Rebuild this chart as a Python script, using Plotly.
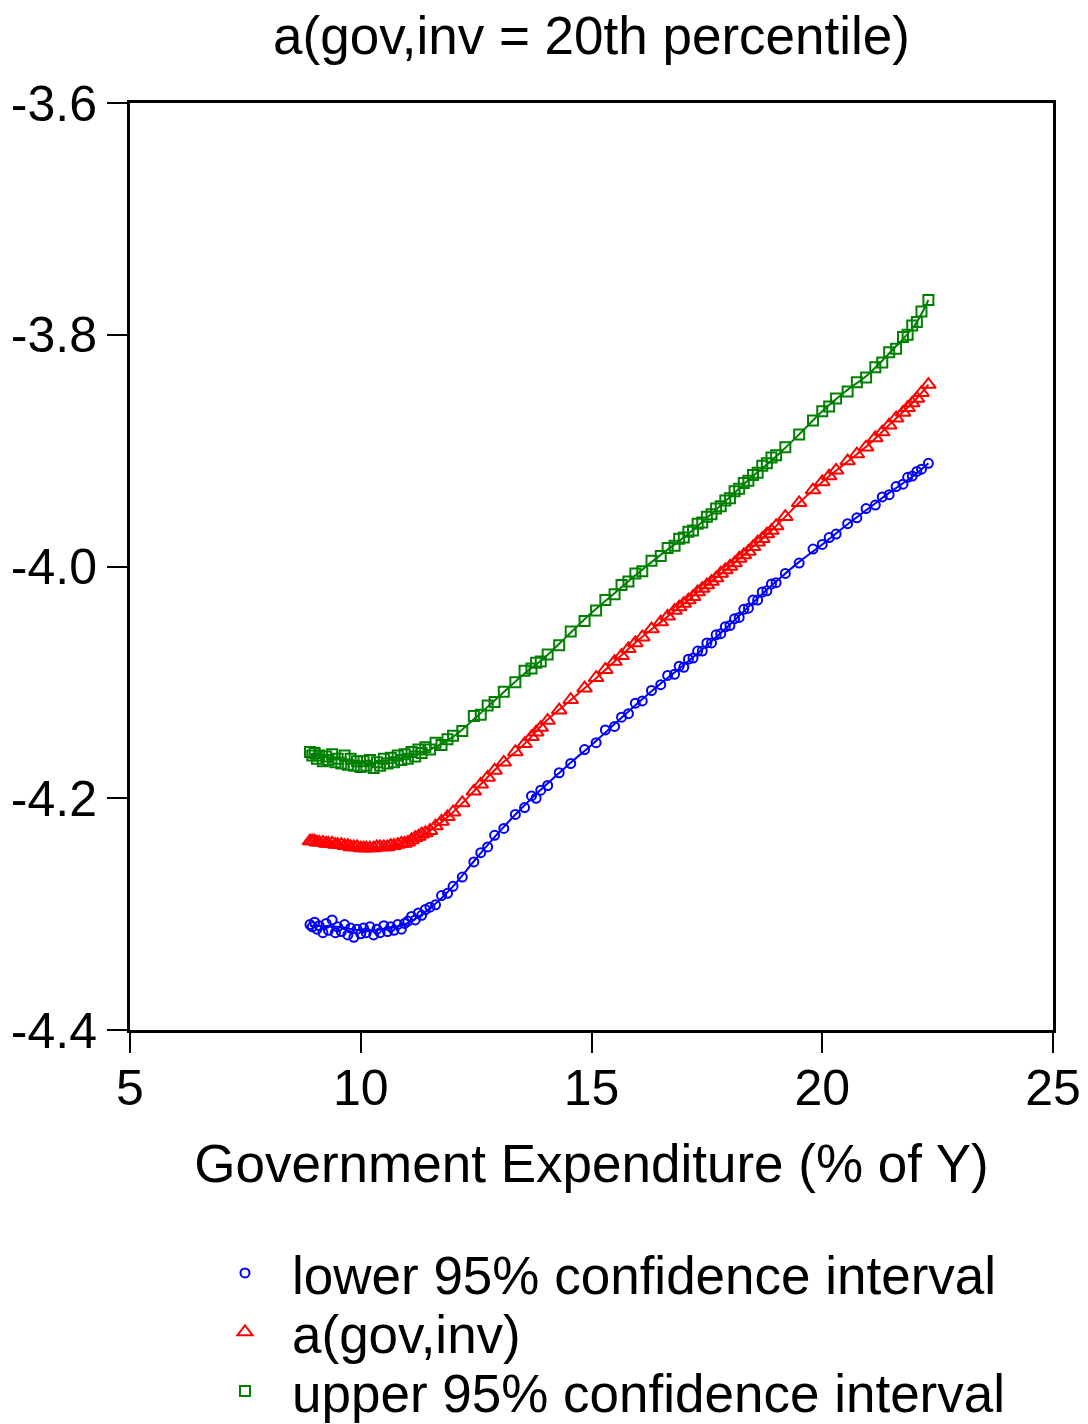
import plotly.graph_objects as go

# Observation x values (government expenditure, % of Y)
obs_x = [8.90, 8.95, 9.00, 9.05, 9.10, 9.18, 9.25, 9.30, 9.38, 9.45, 9.50, 9.58, 9.65, 9.72, 9.78,
         9.85, 9.92, 10.00, 10.06, 10.12, 10.20, 10.28, 10.35, 10.42, 10.50, 10.58, 10.65, 10.72,
         10.80, 10.88, 10.95, 11.02, 11.10, 11.18, 11.25, 11.32, 11.40, 11.50, 11.62, 11.75, 11.88,
         12.00, 12.20, 12.45, 12.60, 12.75, 12.90, 13.10, 13.35, 13.55, 13.70, 13.80, 13.90, 14.05,
         14.30, 14.55, 14.85, 15.10, 15.30, 15.50, 15.65, 15.80, 15.95, 16.10, 16.30, 16.50, 16.65,
         16.80, 16.90, 17.00, 17.10, 17.20, 17.30, 17.40, 17.50, 17.60, 17.70, 17.80, 17.90, 18.00,
         18.10, 18.20, 18.30, 18.40, 18.50, 18.60, 18.70, 18.80, 18.90, 19.00, 19.20, 19.50, 19.80,
         20.00, 20.15, 20.30, 20.55, 20.75, 20.95, 21.15, 21.30, 21.45, 21.60, 21.75, 21.85, 21.95,
         22.05, 22.15, 22.30]

a_obs = [-4.237, -4.237, -4.237, -4.238, -4.238, -4.238, -4.239, -4.239, -4.239, -4.240, -4.240,
         -4.240, -4.241, -4.241, -4.242, -4.242, -4.242, -4.243, -4.243, -4.243, -4.243, -4.243,
         -4.242, -4.242, -4.242, -4.242, -4.241, -4.241, -4.240, -4.239, -4.239, -4.238, -4.236,
         -4.234, -4.233, -4.231, -4.230, -4.228, -4.224, -4.220, -4.216, -4.212, -4.204, -4.194,
         -4.188, -4.182, -4.176, -4.169, -4.160, -4.153, -4.147, -4.143, -4.139, -4.133, -4.124,
         -4.115, -4.105, -4.096, -4.089, -4.082, -4.077, -4.071, -4.066, -4.061, -4.054, -4.048,
         -4.043, -4.038, -4.035, -4.032, -4.029, -4.026, -4.022, -4.019, -4.016, -4.013, -4.010,
         -4.006, -4.003, -4.000, -3.997, -3.993, -3.990, -3.987, -3.983, -3.979, -3.976, -3.972,
         -3.969, -3.965, -3.957, -3.945, -3.934, -3.927, -3.922, -3.917, -3.909, -3.903, -3.897,
         -3.889, -3.884, -3.878, -3.872, -3.867, -3.863, -3.859, -3.855, -3.850, -3.843]

upper_obs = [-4.160, -4.163, -4.161, -4.166, -4.163, -4.168, -4.164, -4.167, -4.162, -4.169, -4.166,
             -4.170, -4.163, -4.171, -4.166, -4.172, -4.168, -4.173, -4.168, -4.172, -4.167, -4.174,
             -4.169, -4.172, -4.166, -4.170, -4.165, -4.169, -4.163, -4.167, -4.162, -4.166, -4.160,
             -4.164, -4.158, -4.161, -4.156, -4.158, -4.152, -4.154, -4.149, -4.146, -4.142, -4.129,
             -4.128, -4.120, -4.117, -4.108, -4.100, -4.090, -4.088, -4.083, -4.082, -4.076, -4.068,
             -4.056, -4.047, -4.038, -4.029, -4.024, -4.016, -4.013, -4.006, -4.004, -3.995, -3.991,
             -3.984, -3.982, -3.976, -3.975, -3.970, -3.969, -3.963, -3.962, -3.957, -3.955, -3.950,
             -3.948, -3.943, -3.941, -3.935, -3.933, -3.928, -3.926, -3.921, -3.919, -3.913, -3.911,
             -3.906, -3.904, -3.897, -3.886, -3.874, -3.866, -3.862, -3.855, -3.849, -3.841, -3.837,
             -3.828, -3.824, -3.815, -3.812, -3.802, -3.800, -3.792, -3.789, -3.780, -3.770]

lower_obs = [-4.309, -4.311, -4.307, -4.313, -4.310, -4.316, -4.308, -4.314, -4.305, -4.316, -4.311,
             -4.315, -4.309, -4.318, -4.312, -4.320, -4.313, -4.317, -4.312, -4.316, -4.311, -4.318,
             -4.313, -4.316, -4.310, -4.315, -4.311, -4.314, -4.309, -4.313, -4.308, -4.306, -4.302,
             -4.305, -4.299, -4.301, -4.296, -4.294, -4.292, -4.284, -4.282, -4.276, -4.268, -4.255,
             -4.247, -4.242, -4.232, -4.226, -4.214, -4.208, -4.198, -4.200, -4.193, -4.189, -4.178,
             -4.170, -4.158, -4.152, -4.141, -4.138, -4.130, -4.127, -4.118, -4.116, -4.107, -4.102,
             -4.094, -4.093, -4.086, -4.087, -4.080, -4.079, -4.073, -4.073, -4.066, -4.066, -4.059,
             -4.058, -4.052, -4.051, -4.045, -4.044, -4.037, -4.036, -4.029, -4.029, -4.022, -4.021,
             -4.015, -4.014, -4.006, -3.997, -3.985, -3.981, -3.975, -3.972, -3.963, -3.958, -3.950,
             -3.947, -3.940, -3.938, -3.931, -3.929, -3.923, -3.922, -3.918, -3.916, -3.911]

# Smoothed fit curves
fit_x = [8.9, 9.5, 10.0, 10.5, 11.0, 11.5, 12.0, 12.5, 13.0, 13.5, 14.0, 14.5, 15.0, 15.5, 16.0,
         16.5, 17.0, 17.5, 18.0, 18.5, 19.0, 19.5, 20.0, 20.5, 21.0, 21.5, 22.0, 22.3]
a_fit = [-4.237, -4.240, -4.243, -4.242, -4.238, -4.228, -4.212, -4.192, -4.172, -4.155, -4.134,
         -4.117, -4.100, -4.082, -4.064, -4.048, -4.032, -4.016, -4.000, -3.983, -3.965, -3.945,
         -3.927, -3.911, -3.895, -3.876, -3.857, -3.843]
upper_fit = [-4.162, -4.166, -4.170, -4.168, -4.164, -4.158, -4.147, -4.130, -4.112, -4.094, -4.078,
             -4.059, -4.040, -4.023, -4.006, -3.990, -3.975, -3.958, -3.940, -3.922, -3.905, -3.886,
             -3.866, -3.849, -3.834, -3.814, -3.792, -3.770]
lower_fit = [-4.310, -4.311, -4.314, -4.313, -4.308, -4.295, -4.276, -4.252, -4.229, -4.208, -4.189,
             -4.171, -4.154, -4.136, -4.118, -4.101, -4.085, -4.068, -4.050, -4.031, -4.013, -3.996,
             -3.981, -3.965, -3.950, -3.935, -3.921, -3.911]

x_ticks = [5, 10, 15, 20, 25]
y_ticks = [-4.4, -4.2, -4.0, -3.8, -3.6]
y_tick_labels = ["-4.4", "-4.2", "-4.0", "-3.8", "-3.6"]

series_names = ["lower 95% confidence interval", "a(gov,inv)", "upper 95% confidence interval"]

FONT = "Arial, Liberation Sans, sans-serif"
BLUE, RED, GREEN = "#0000FF", "#FF0000", "#008000"

fig = go.Figure()

# fit lines (no legend)
for fy, col in [(lower_fit, BLUE), (a_fit, RED), (upper_fit, GREEN)]:
    fig.add_trace(go.Scatter(x=fit_x, y=fy, mode="lines", line=dict(color=col, width=2, shape="spline"),
                             showlegend=False, hoverinfo="skip"))

# observation markers, each with its own legend box
fig.add_trace(go.Scatter(x=obs_x, y=lower_obs, mode="markers", name=series_names[0], legend="legend",
                         marker=dict(symbol="circle-open", size=9, color=BLUE, line=dict(width=2, color=BLUE))))
fig.add_trace(go.Scatter(x=obs_x, y=a_obs, mode="markers", name=series_names[1], legend="legend2",
                         marker=dict(symbol="triangle-up-open", size=13, color=RED, line=dict(width=2, color=RED))))
fig.add_trace(go.Scatter(x=obs_x, y=upper_obs, mode="markers", name=series_names[2], legend="legend3",
                         marker=dict(symbol="square-open", size=10, color=GREEN, line=dict(width=2, color=GREEN))))

leg_common = dict(xref="container", x=198 / 1088, xanchor="left", yref="container", yanchor="middle",
                  font=dict(size=53), bgcolor="rgba(0,0,0,0)", itemwidth=84)

fig.update_layout(
    width=1088, height=1424,
    margin=dict(l=130, r=35, t=103, b=394, autoexpand=False),
    paper_bgcolor="white", plot_bgcolor="white",
    font=dict(family=FONT, size=50, color="black"),
    title=dict(text="a(gov,inv = 20th percentile)", x=0.5, xref="paper", xanchor="center",
               y=1 - 35 / 1424, yref="container", yanchor="middle", font=dict(size=53)),
    showlegend=True,
    legend=dict(y=1 - 1273 / 1424, **leg_common),
    legend2=dict(y=1 - 1332 / 1424, **leg_common),
    legend3=dict(y=1 - 1391 / 1424, **leg_common),
)

fig.update_xaxes(range=[5, 25], tickvals=x_ticks, showgrid=False, zeroline=False, automargin=False,
                 showline=True, linecolor="black", linewidth=3, mirror=True,
                 ticks="outside", ticklen=20, tickwidth=2, tickcolor="black", ticklabelstandoff=-8,
                 title=dict(text="Government Expenditure (% of Y)", standoff=30, font=dict(size=53)))
fig.update_yaxes(range=[-4.4, -3.6], tickvals=y_ticks, ticktext=y_tick_labels, showgrid=False, zeroline=False,
                 automargin=False,
                 showline=True, linecolor="black", linewidth=3, mirror=True,
                 ticks="outside", ticklen=20, tickwidth=2, tickcolor="black")

fig.write_html("out.html")
